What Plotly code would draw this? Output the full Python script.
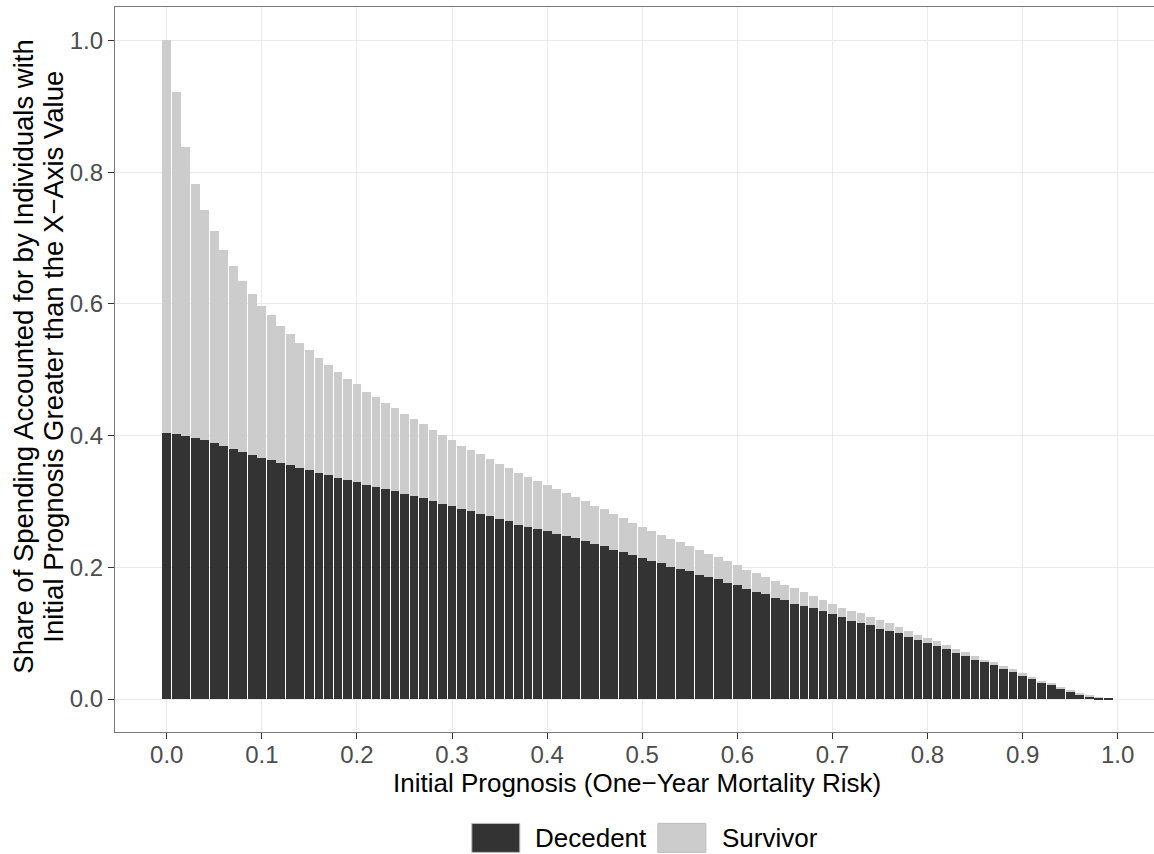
import plotly.graph_objects as go

# ---- data ----
prognosis = [round(i * 0.01, 2) for i in range(100)]

decedent = [
    0.404, 0.402, 0.399, 0.396, 0.393, 0.389, 0.384, 0.379, 0.375, 0.370,
    0.366, 0.363, 0.358, 0.355, 0.351, 0.348, 0.343, 0.340, 0.335, 0.332,
    0.329, 0.325, 0.322, 0.319, 0.316, 0.311, 0.308, 0.305, 0.300, 0.296,
    0.293, 0.288, 0.285, 0.281, 0.278, 0.273, 0.270, 0.265, 0.261, 0.258,
    0.255, 0.250, 0.247, 0.244, 0.240, 0.235, 0.232, 0.227, 0.223, 0.218,
    0.214, 0.209, 0.206, 0.201, 0.198, 0.194, 0.189, 0.185, 0.182, 0.177,
    0.173, 0.167, 0.163, 0.159, 0.154, 0.150, 0.145, 0.142, 0.138, 0.133,
    0.129, 0.124, 0.119, 0.116, 0.112, 0.107, 0.104, 0.100, 0.095, 0.089,
    0.085, 0.080, 0.076, 0.070, 0.066, 0.060, 0.056, 0.053, 0.047, 0.042,
    0.036, 0.031, 0.025, 0.022, 0.016, 0.012, 0.007, 0.004, 0.002, 0.001,
]

survivor = [
    0.596, 0.519, 0.439, 0.386, 0.349, 0.321, 0.298, 0.279, 0.260, 0.245,
    0.231, 0.220, 0.208, 0.199, 0.190, 0.182, 0.175, 0.167, 0.162, 0.154,
    0.149, 0.141, 0.136, 0.130, 0.126, 0.122, 0.117, 0.112, 0.108, 0.105,
    0.100, 0.097, 0.093, 0.091, 0.086, 0.084, 0.081, 0.078, 0.076, 0.073,
    0.070, 0.069, 0.066, 0.063, 0.060, 0.058, 0.056, 0.054, 0.052, 0.049,
    0.047, 0.046, 0.043, 0.042, 0.040, 0.038, 0.037, 0.035, 0.033, 0.032,
    0.030, 0.029, 0.028, 0.026, 0.025, 0.023, 0.023, 0.021, 0.019, 0.018,
    0.016, 0.015, 0.015, 0.014, 0.012, 0.013, 0.011, 0.010, 0.009, 0.009,
    0.007, 0.008, 0.006, 0.006, 0.005, 0.005, 0.004, 0.003, 0.003, 0.003,
    0.003, 0.002, 0.002, 0.002, 0.002, 0.001, 0.002, 0.002, 0.001, 0.000,
]

x_ticks = [0.0, 0.1, 0.2, 0.3, 0.4, 0.5, 0.6, 0.7, 0.8, 0.9, 1.0]
y_ticks = [0.0, 0.2, 0.4, 0.6, 0.8, 1.0]
series_names = ["Decedent", "Survivor"]
series_colors = ["#333333", "#cccccc"]

# ---- layout geometry (pixels) ----
W, H = 1154, 854
L, T, B = 115.3, 7.3, 122.3
R = 0
plot_w = W - L - R
plot_h = H - T - B


def px(xp):
    return (xp - L) / plot_w


def py(yp):
    return (H - B - yp) / plot_h


FONT = "Liberation Sans, Arial, Helvetica, sans-serif"

fig = go.Figure()
fig.add_trace(go.Bar(x=prognosis, y=decedent, name=series_names[0],
                     marker=dict(color=series_colors[0], line=dict(width=0)),
                     showlegend=False))
fig.add_trace(go.Bar(x=prognosis, y=survivor, name=series_names[1],
                     marker=dict(color=series_colors[1], line=dict(width=0)),
                     showlegend=False))

fig.update_layout(
    width=W, height=H,
    margin=dict(l=L, r=R, t=T, b=B, pad=0),
    barmode="stack", bargap=0.08,
    plot_bgcolor="white", paper_bgcolor="white",
    font=dict(family=FONT, color="#000000"),
)

fig.update_xaxes(
    range=[-0.0544, -0.0544 + plot_w / 950.7],
    tickvals=x_ticks, tickformat=".1f",
    showgrid=True, gridcolor="#ebebeb", gridwidth=1,
    zeroline=False,
    showline=True, linecolor="#7a7a7a", linewidth=1.3, mirror=True,
    ticks="outside", ticklen=6, tickwidth=1.3, tickcolor="#333333",
    ticklabelstandoff=-5,
    tickfont=dict(size=24, color="#4d4d4d", family=FONT),
)
fig.update_yaxes(
    range=[-0.05, 1.0508],
    tickvals=y_ticks, tickformat=".1f",
    showgrid=True, gridcolor="#ebebeb", gridwidth=1,
    zeroline=False,
    showline=True, linecolor="#7a7a7a", linewidth=1.3, mirror=False,
    ticks="outside", ticklen=6, tickwidth=1.3, tickcolor="#333333",
    tickfont=dict(size=24, color="#4d4d4d", family=FONT),
)

annotations = [
    dict(text="Initial Prognosis (One\u2212Year Mortality Risk)",
         x=px(637.5), y=py(783), xref="paper", yref="paper",
         xanchor="center", yanchor="middle", showarrow=False,
         font=dict(size=26, color="#000000", family=FONT)),
    dict(text="Share of Spending Accounted for by Individuals with",
         x=px(24), y=py(357), xref="paper", yref="paper",
         xanchor="center", yanchor="middle", textangle=-90, showarrow=False,
         font=dict(size=27.5, color="#000000", family=FONT)),
    dict(text="Initial Prognosis Greater than the X\u2212Axis Value",
         x=px(54), y=py(357), xref="paper", yref="paper",
         xanchor="center", yanchor="middle", textangle=-90, showarrow=False,
         font=dict(size=27.5, color="#000000", family=FONT)),
]

# manual legend (ggplot-style keys)
shapes = []
key_lefts = [472, 658]
text_lefts = [533, 720]
for name, col, kx, tx in zip(series_names, series_colors, key_lefts, text_lefts):
    shapes.append(dict(type="rect", xref="paper", yref="paper",
                       x0=px(kx), x1=px(kx + 48), y0=py(852), y1=py(823),
                       fillcolor=col, line=dict(color="#bdbdbd", width=1)))
    annotations.append(dict(text=name, x=px(tx), y=py(838), xref="paper", yref="paper",
                            xanchor="left", yanchor="middle", showarrow=False,
                            font=dict(size=26, color="#000000", family=FONT)))

fig.update_layout(annotations=annotations, shapes=shapes)

fig.write_html("out.html")
